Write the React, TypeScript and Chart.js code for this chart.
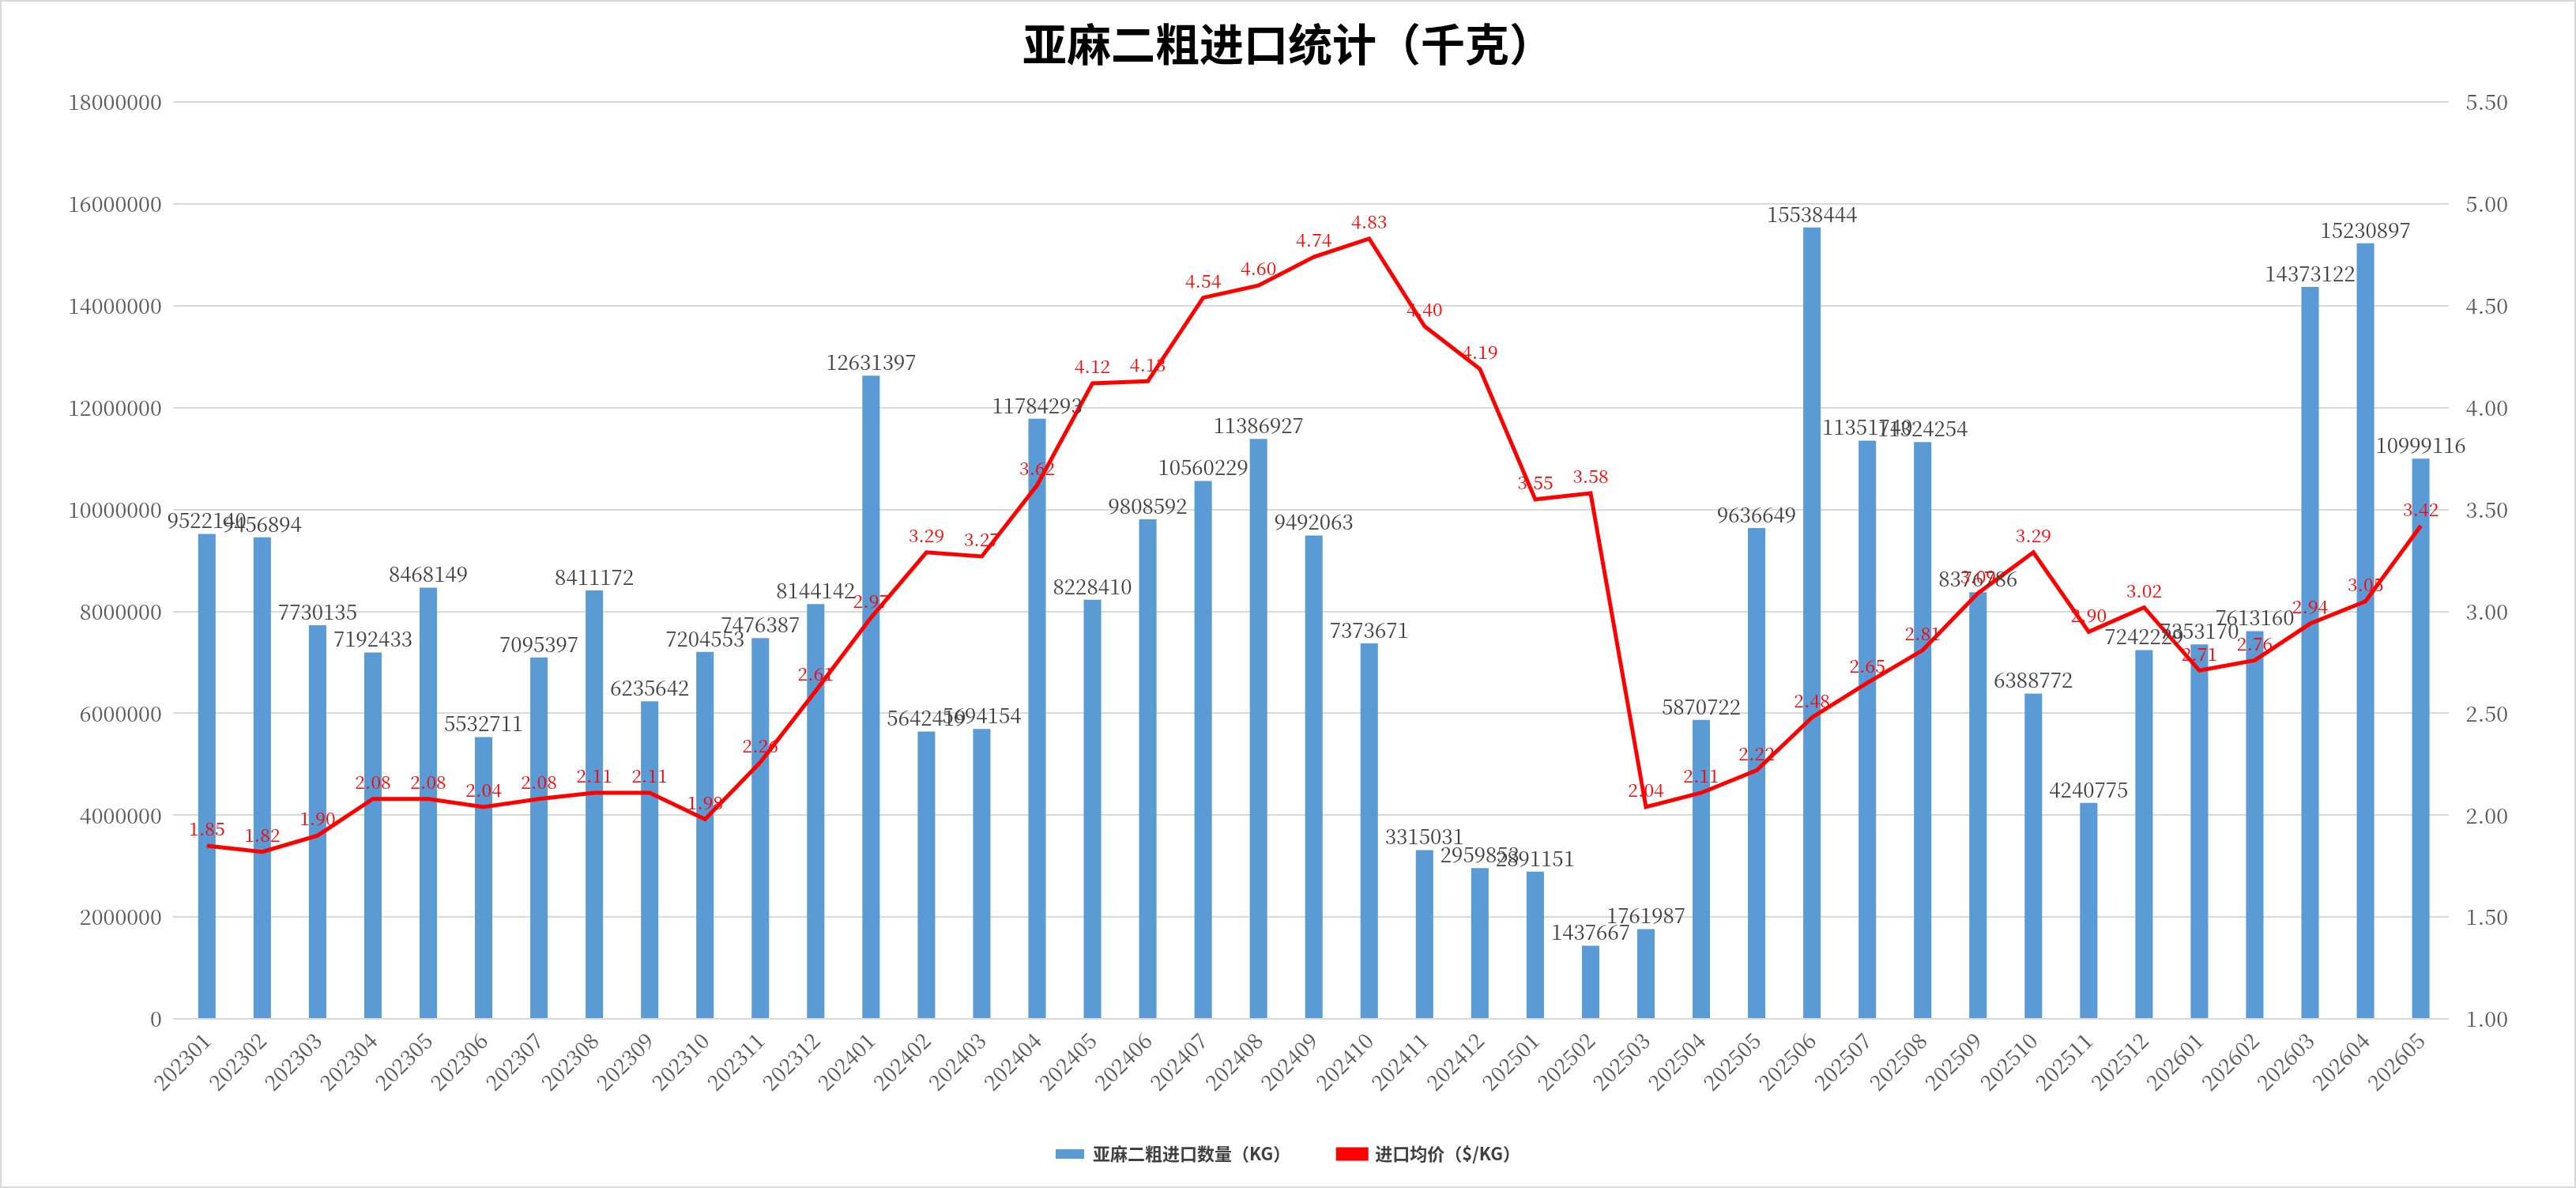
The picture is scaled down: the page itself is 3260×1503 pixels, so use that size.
import React, { useEffect, useRef } from "react";
import { Chart, registerables } from "chart.js";
Chart.register(...registerables);

const categories = ["202301","202302","202303","202304","202305","202306","202307","202308","202309","202310","202311","202312","202401","202402","202403","202404","202405","202406","202407","202408","202409","202410","202411","202412","202501","202502","202503","202504","202505","202506","202507","202508","202509","202510","202511","202512","202601","202602","202603","202604","202605"];
const quantity = [9522140,9456894,7730135,7192433,8468149,5532711,7095397,8411172,6235642,7204553,7476387,8144142,12631397,5642419,5694154,11784293,8228410,9808592,10560229,11386927,9492063,7373671,3315031,2959853,2891151,1437667,1761987,5870722,9636649,15538444,11351740,11324254,8376786,6388772,4240775,7242229,7353170,7613160,14373122,15230897,10999116];
const price = [1.85,1.82,1.90,2.08,2.08,2.04,2.08,2.11,2.11,1.98,2.26,2.61,2.97,3.29,3.27,3.62,4.12,4.13,4.54,4.60,4.74,4.83,4.40,4.19,3.55,3.58,2.04,2.11,2.22,2.48,2.65,2.81,3.09,3.29,2.90,3.02,2.71,2.76,2.94,3.05,3.42];

const SERIF = "'Noto Serif CJK SC','DejaVu Serif','Liberation Serif',serif";

const labelPlugin = {
  id: "valueLabels",
  afterDatasetsDraw(chart: any) {
    const ctx = chart.ctx;
    ctx.save();
    ctx.textAlign = "center";
    ctx.textBaseline = "bottom";
    const bars = chart.getDatasetMeta(0).data;
    ctx.fillStyle = "#404040";
    ctx.font = `26px ${SERIF}`;
    bars.forEach((b: any, i: number) => ctx.fillText(String(quantity[i]), b.x, b.y - 4));
    const pts = chart.getDatasetMeta(1).data;
    ctx.fillStyle = "#FF0000";
    ctx.font = `23px ${SERIF}`;
    pts.forEach((p: any, i: number) => ctx.fillText(price[i].toFixed(2), p.x, p.y - 10));
    ctx.restore();
  },
};

export default function App() {
  const ref = useRef<HTMLCanvasElement>(null);
  useEffect(() => {
    const chart = new Chart(ref.current!, {
      type: "bar",
      data: {
        labels: categories,
        datasets: [
          { type: "bar", label: "亚麻二粗进口数量（KG）", data: quantity, backgroundColor: "#5B9BD5", yAxisID: "y", categoryPercentage: 0.7, barPercentage: 0.45, order: 2 },
          { type: "line", label: "进口均价（$/KG）", data: price, borderColor: "#FF0000", backgroundColor: "#FF0000", borderWidth: 5, pointRadius: 0, yAxisID: "y1", order: 1 } as any,
        ],
      },
      options: {
        animation: false,
        responsive: false,
        layout: { padding: { left: 70, right: 70, top: 10, bottom: 20 } },
        plugins: {
          title: { display: true, text: "亚麻二粗进口统计（千克）", font: { size: 56, weight: "bold", family: "'Noto Sans CJK SC'" }, color: "#000", padding: { top: 10, bottom: 40 } },
          legend: {
            position: "bottom",
            labels: {
              font: { size: 22, weight: "bold", family: "'Noto Sans CJK SC'" }, color: "#404040", boxWidth: 36, boxHeight: 12, padding: 60,
              sort: (a: any, b: any) => a.datasetIndex - b.datasetIndex,
            },
          },
          tooltip: { enabled: false },
        },
        scales: {
          x: { grid: { display: false }, border: { color: "#d9d9d9" }, ticks: { color: "#595959", font: { size: 27, family: SERIF }, maxRotation: 45, minRotation: 45, autoSkip: false } },
          y: { min: 0, max: 18000000, ticks: { stepSize: 2000000, color: "#595959", font: { size: 27, family: SERIF }, padding: 14, callback: (v: any) => String(v) }, grid: { color: "#d9d9d9", lineWidth: 2 }, border: { display: false } },
          y1: { position: "right", min: 1, max: 5.5, ticks: { stepSize: 0.5, color: "#595959", font: { size: 27, family: SERIF }, padding: 14, callback: (v: any) => Number(v).toFixed(2) }, grid: { display: false }, border: { display: false } },
        },
      },
      plugins: [labelPlugin],
    });
    return () => chart.destroy();
  }, []);
  return (
    <div style={{ position: "fixed", left: 0, top: 0, width: 3260, height: 1503, background: "#fff", boxSizing: "border-box", border: "2px solid #d9d9d9" }}>
      <canvas ref={ref} width={3256} height={1499} />
    </div>
  );
}
